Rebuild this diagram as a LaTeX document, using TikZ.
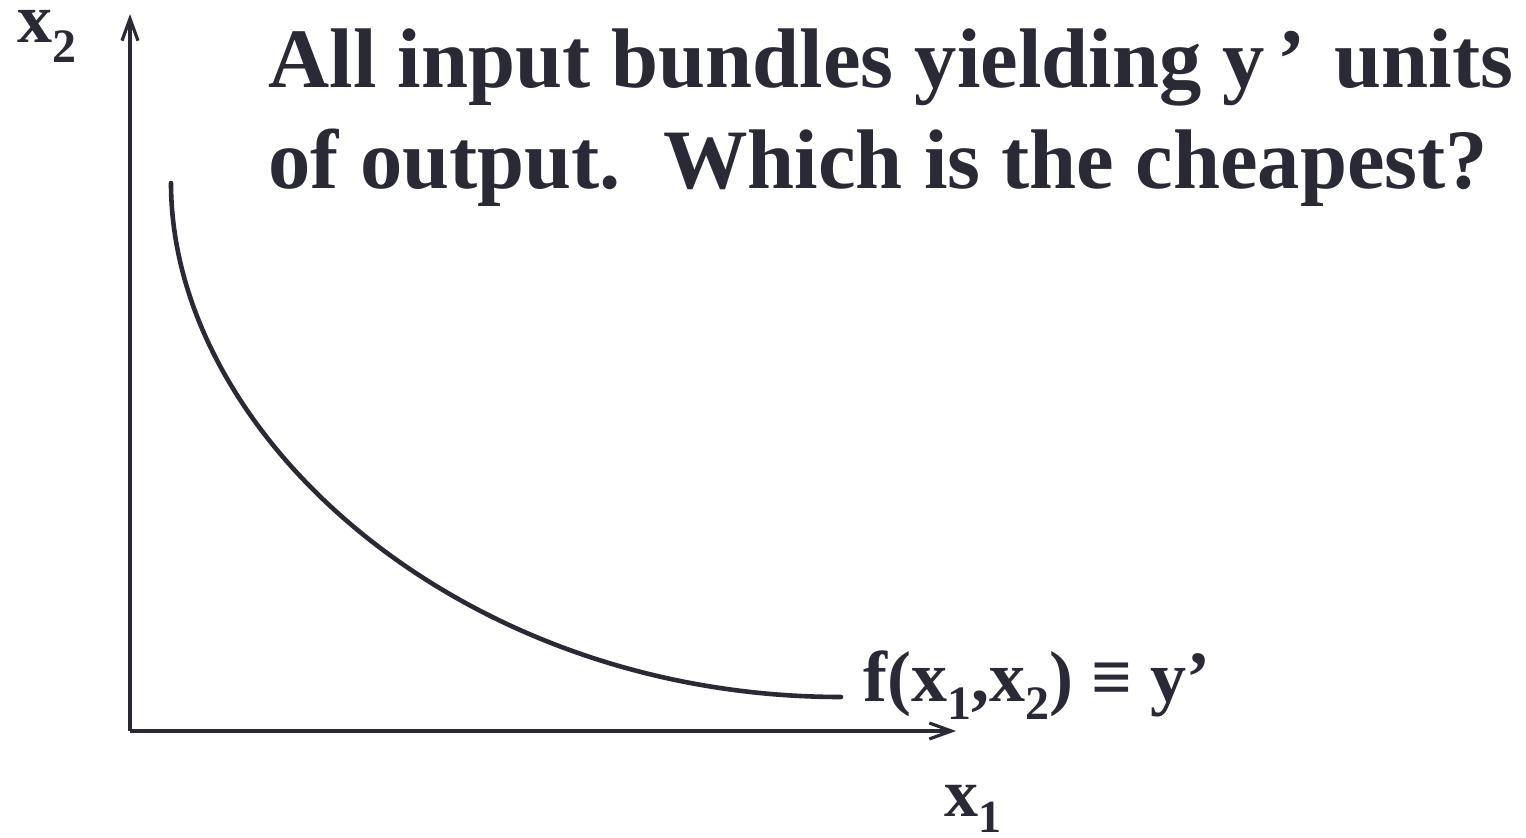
\documentclass[tikz,border=0pt]{standalone}
\usepackage{fontspec}
\setmainfont{Liberation Serif}
\usetikzlibrary{arrows.meta}
\definecolor{ink}{RGB}{42,42,54}
\newcommand{\lowsub}[3]{\raisebox{-#2}{\fontsize{#1}{#1}\selectfont #3}}
\tikzset{
  axis/.style={draw=ink, line width=1.6pt, -{Straight Barb[length=11pt,width=8pt,line width=1.6pt]}},
  curvestyle/.style={draw=ink, line width=2.3pt, line cap=round},
  lab/.style={text=ink, inner sep=0pt, anchor=base west, font=\bfseries},
  titlefont/.style={font=\bfseries\fontsize{42.3}{42.3}\selectfont},
}
\begin{document}
\begin{tikzpicture}[x=0.5pt,y=-0.5pt]
\useasboundingbox (0,0) rectangle (1526,838);
\coordinate (O) at (130,731);
\coordinate (ytip) at (130,14);
\coordinate (xtip) at (956,731);
\draw[axis] (O) -- (ytip);
\draw[axis] (O) -- (xtip);
\coordinate (cstart) at (171,183);
\coordinate (cend) at (841,697);
\draw[curvestyle] (cstart) .. controls (171,436) and (461,697) .. (cend);
\node[lab, font=\bfseries\fontsize{35}{35}\selectfont] (x2) at (17,43) {x\lowsub{24pt}{10pt}{2}};
\node[lab, font=\bfseries\fontsize{34}{34}\selectfont] (x1) at (944,817) {x\lowsub{23pt}{8pt}{1}};
\node[lab, font=\bfseries\fontsize{36}{36}\selectfont] (f) at (863,702) {f(x\lowsub{24pt}{9pt}{1},x\lowsub{24pt}{9pt}{2}) ≡ y’};
\node[lab, titlefont] (title1) at (268,88) {All input bundles yielding y\hspace{6pt}’\hspace{4pt} units};
\node[lab, titlefont] (title2) at (268,189) {of output.\ \ Which is the cheapest?};
\end{tikzpicture}
\end{document}
